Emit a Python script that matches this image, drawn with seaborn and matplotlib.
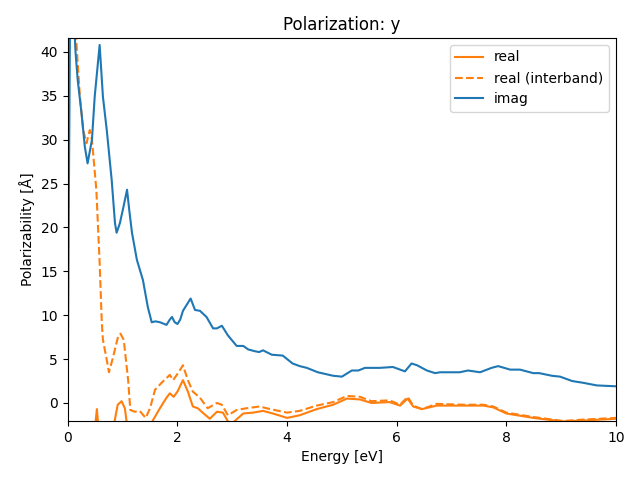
import numpy as np
import pandas as pd
import seaborn as sns
import matplotlib
matplotlib.use("Agg")
import matplotlib.pyplot as plt

# energies [eV] and polarizability values
x_real = [0.0, 0.45, 0.50, 0.53, 0.56, 0.62, 0.80, 0.87, 0.91, 0.98, 1.04, 1.08, 1.30,
          1.50, 1.55, 1.68, 1.80, 1.86, 1.93, 2.00, 2.10, 2.19, 2.28, 2.37, 2.46, 2.59,
          2.72, 2.83, 2.92, 3.00, 3.20, 3.38, 3.56, 3.74, 4.00, 4.23, 4.54, 4.84, 5.09,
          5.33, 5.54, 5.87, 6.06, 6.20, 6.30, 6.46, 6.73, 7.20, 7.58, 7.76, 8.00, 8.49,
          9.03, 9.40, 10.0]
y_real = [-30, -5, -2.5, -0.7, -3, -6, -4, -1.5, -0.2, 0.2, -0.6, -2.5, -4,
          -3, -2.0, -0.6, 0.6, 1.1, 0.7, 1.3, 2.6, 1.3, -0.4, -0.6, -1.1, -1.8,
          -1.0, -1.1, -2.1, -2.3, -1.2, -1.1, -0.9, -1.2, -1.7, -1.4, -0.7, -0.2, 0.5,
          0.4, 0.0, 0.1, -0.3, 0.5, -0.4, -0.7, -0.3, -0.3, -0.3, -0.5, -1.2, -1.7,
          -2.1, -2.0, -1.8]

x_inter = [0.0, 0.10, 0.15, 0.22, 0.28, 0.34, 0.40, 0.44, 0.52, 0.58, 0.62, 0.64, 0.71,
           0.75, 0.82, 0.91, 0.96, 1.02, 1.10, 1.14, 1.22, 1.31, 1.42, 1.50, 1.59, 1.71,
           1.86, 1.92, 2.01, 2.10, 2.19, 2.28, 2.41, 2.55, 2.72, 2.81, 2.92, 3.08, 3.26,
           3.50, 3.69, 4.00, 4.23, 4.54, 4.84, 5.09, 5.33, 5.54, 5.87, 6.06, 6.20, 6.30,
           6.46, 6.73, 7.20, 7.58, 7.76, 8.00, 8.49, 9.03, 9.40, 10.0]
y_inter = [80, 46, 41.6, 34.9, 31.1, 29.6, 31.1, 30.0, 24.3, 16, 9.1, 7.2, 4.9,
           3.5, 5.1, 7.4, 7.9, 7.2, 2.6, -0.8, -1.0, -0.9, -1.7, -0.6, 1.5, 2.3,
           3.2, 2.6, 3.4, 4.3, 2.6, 1.3, 0.6, -0.6, 0.0, -0.2, -1.4, -0.8, -0.6,
           -0.4, -0.7, -1.1, -0.9, -0.3, 0.1, 0.8, 0.7, 0.2, 0.3, -0.2, 0.7, -0.3,
           -0.7, -0.1, -0.2, -0.2, -0.4, -1.1, -1.6, -2.05, -1.9, -1.7]

x_imag = [0.0, 0.02, 0.04, 0.07, 0.11, 0.14, 0.18, 0.25, 0.31, 0.36, 0.44, 0.49, 0.58,
          0.64, 0.71, 0.80, 0.86, 0.89, 0.95, 1.02, 1.08, 1.12, 1.17, 1.26, 1.37, 1.46,
          1.53, 1.60, 1.68, 1.80, 1.86, 1.90, 1.95, 2.00, 2.05, 2.10, 2.15, 2.24, 2.32,
          2.41, 2.53, 2.65, 2.72, 2.81, 2.92, 3.08, 3.20, 3.29, 3.41, 3.49, 3.56, 3.72,
          3.92, 4.10, 4.23, 4.36, 4.56, 4.84, 5.00, 5.18, 5.30, 5.42, 5.69, 5.93, 6.15,
          6.27, 6.37, 6.55, 6.70, 6.79, 7.15, 7.30, 7.52, 7.73, 7.85, 8.07, 8.25, 8.49,
          8.60, 8.83, 8.98, 9.20, 9.40, 9.65, 10.0]
y_imag = [2, 25, 44, 48, 44, 40, 36.8, 33, 29.2, 27.3, 30, 34.9, 40.8,
          34.9, 31.1, 25.4, 20.5, 19.4, 20.5, 22.5, 24.3, 22, 19.4, 16.3, 14.0, 10.9,
          9.2, 9.3, 9.2, 8.9, 9.5, 9.8, 9.2, 9.0, 9.5, 10.5, 11.0, 11.9, 10.6,
          10.5, 9.8, 8.5, 8.5, 8.8, 7.7, 6.5, 6.5, 6.1, 5.9, 5.8, 6.0, 5.5,
          5.4, 4.5, 4.2, 4.0, 3.5, 3.1, 3.0, 3.7, 3.7, 4.0, 4.0, 4.1, 3.6,
          4.5, 4.3, 3.7, 3.4, 3.5, 3.5, 3.7, 3.5, 4.0, 4.2, 3.8, 3.8, 3.4,
          3.4, 3.1, 3.0, 2.5, 2.3, 2.0, 1.9]

fig, ax = plt.subplots(figsize=(6.4, 4.8), dpi=100)

sns.lineplot(x=x_real, y=y_real, color="C1", label="real", estimator=None, ax=ax)
sns.lineplot(x=x_inter, y=y_inter, color="C1", linestyle="--", label="real (interband)",
             estimator=None, ax=ax)
sns.lineplot(x=x_imag, y=y_imag, color="C0", label="imag", estimator=None, ax=ax)

ax.set_xlim(0, 10)
ax.set_ylim(-2.05, 41.6)
ax.set_xlabel("Energy [eV]")
ax.set_ylabel("Polarizability [Å]")
ax.set_title("Polarization: y")
ax.legend(loc="upper right")

fig.subplots_adjust(left=0.106, right=0.9625, top=0.921, bottom=0.123)
plt.savefig("out.png")
